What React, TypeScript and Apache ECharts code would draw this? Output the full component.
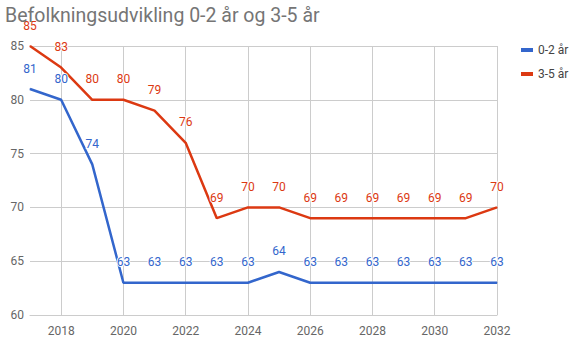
import React, { useEffect, useRef } from "react";
import * as echarts from "echarts";

const years = ["2017","2018","2019","2020","2021","2022","2023","2024","2025","2026","2027","2028","2029","2030","2031","2032"];
const series02 = [81, 80, 74, 63, 63, 63, 63, 63, 64, 63, 63, 63, 63, 63, 63, 63];
const series35 = [85, 83, 80, 80, 79, 76, 69, 70, 70, 69, 69, 69, 69, 69, 69, 70];
const seriesNames = ["0-2 år", "3-5 år"];
const colors = ["#3366cc", "#dc3912"];
const titleText = "Befolkningsudvikling 0-2 år og 3-5 år";

export default function App() {
  const ref = useRef<HTMLDivElement>(null);
  useEffect(() => {
    document.body.style.margin = "0";
    if (!ref.current) return;
    const chart = echarts.init(ref.current, null, { renderer: "svg" });
    const showEven = (index: number) => index % 2 === 1;
    const mkSeries = (name: string, data: number[], color: string) => ({
      name,
      type: "line",
      data,
      symbol: "circle",
      symbolSize: 1,
      showSymbol: true,
      itemStyle: { color },
      lineStyle: { color, width: 2.5 },
      label: {
        show: true,
        position: "top",
        distance: 14,
        color,
        fontSize: 12,
        fontFamily: "Roboto",
        textBorderColor: "#fff",
        textBorderWidth: 2,
      },
      emphasis: { disabled: true },
    });
    chart.setOption({
      animation: false,
      textStyle: { fontFamily: "Roboto" },
      title: {
        text: titleText,
        left: 0,
        top: 0,
        textStyle: { fontFamily: "Roboto", fontSize: 19.5, fontWeight: "normal", color: "#757575" },
      },
      legend: {
        orient: "vertical",
        left: 516,
        top: 39,
        itemGap: 12,
        itemWidth: 12,
        itemHeight: 4,
        icon: "rect",
        data: seriesNames,
        textStyle: { fontFamily: "Roboto", fontSize: 12, color: "#444" },
      },
      grid: { left: 30, right: 80, top: 46, bottom: 31, containLabel: false },
      xAxis: {
        type: "category",
        data: years,
        boundaryGap: false,
        axisLine: { lineStyle: { color: "#cccccc" } },
        axisTick: { show: false },
        axisLabel: { interval: showEven, color: "#666", fontSize: 12, margin: 10, hideOverlap: false },
        splitLine: { show: true, interval: showEven, lineStyle: { color: "#cccccc" } },
      },
      yAxis: {
        type: "value",
        min: 60,
        max: 85,
        interval: 5,
        axisLine: { show: false },
        axisTick: { show: false },
        axisLabel: { color: "#666", fontSize: 12, margin: 6 },
        splitLine: { lineStyle: { color: "#cccccc" } },
      },
      series: [
        mkSeries(seriesNames[0], series02, colors[0]),
        mkSeries(seriesNames[1], series35, colors[1]),
      ],
    });
    return () => chart.dispose();
  }, []);
  return <div ref={ref} style={{ width: 577, height: 346 }} />;
}
